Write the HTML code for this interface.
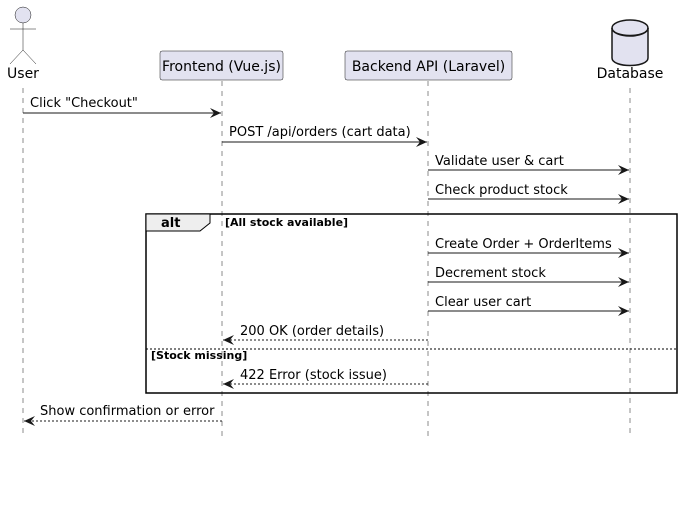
<!DOCTYPE html>
<html><head><meta charset="utf-8"><style>body{margin:0;background:#fff}svg{display:block}</style></head><body>
<svg width="682" height="518" viewBox="0 0 682 518" xmlns="http://www.w3.org/2000/svg" font-family="DejaVu Sans, Liberation Sans, sans-serif">
<defs>
<marker id="a" markerWidth="12" markerHeight="10" refX="11" refY="5" orient="auto" markerUnits="userSpaceOnUse"><path d="M0,0 L11,5 L0,10 L4,5 Z" fill="#181818"/></marker>
</defs>
<g stroke="#181818" stroke-width="0.5" stroke-dasharray="5,5">
<line x1="23" y1="88" x2="23" y2="436"/>
<line x1="222" y1="81" x2="222" y2="436"/>
<line x1="428" y1="81" x2="428" y2="436"/>
<line x1="630" y1="88" x2="630" y2="436"/>
</g>
<g stroke="#181818" stroke-width="0.5" fill="#E2E2F0">
<circle cx="23" cy="15" r="8"/>
<line x1="23" y1="23" x2="23" y2="50"/>
<line x1="10" y1="29" x2="36" y2="29"/>
<line x1="23" y1="50" x2="10" y2="64"/>
<line x1="23" y1="50" x2="36" y2="64"/>
</g>
<text x="23" y="78" font-size="14" text-anchor="middle" fill="#000">User</text>
<rect x="160" y="51" width="123" height="29" rx="2" fill="#E2E2F0" stroke="#181818" stroke-width="0.5"/>
<text x="221.5" y="71" font-size="14" text-anchor="middle">Frontend (Vue.js)</text>
<rect x="345" y="51" width="167" height="29" rx="2" fill="#E2E2F0" stroke="#181818" stroke-width="0.5"/>
<text x="428.5" y="71" font-size="14" text-anchor="middle">Backend API (Laravel)</text>
<path d="M612,28 L612,58 C612,68 648,68 648,58 L648,28" fill="#E2E2F0" stroke="#181818" stroke-width="1.5"/>
<ellipse cx="630" cy="28" rx="18" ry="8" fill="#E2E2F0" stroke="#181818" stroke-width="1.5"/>
<path d="M612,28 C612,38 648,38 648,28" fill="none" stroke="#181818" stroke-width="1.5"/>
<text x="630" y="78" font-size="14" text-anchor="middle">Database</text>
<rect x="146" y="214" width="531" height="179" fill="none" stroke="#000" stroke-width="1.5"/>
<path d="M146,214 L210,214 L210,223 L200,231 L146,231 Z" fill="#EEEEEE" stroke="#000" stroke-width="1"/>
<text x="161" y="227" font-size="13" font-weight="bold">alt</text>
<text x="225" y="226" font-size="11" font-weight="bold">[All stock available]</text>
<line x1="146" y1="349" x2="677" y2="349" stroke="#000" stroke-width="1" stroke-dasharray="2,2"/>
<text x="151" y="359" font-size="11" font-weight="bold">[Stock missing]</text>
<g stroke="#181818" stroke-width="1" font-size="13" fill="#000">
<line x1="23" y1="113" x2="221" y2="113" marker-end="url(#a)"/>
<line x1="222" y1="142" x2="427" y2="142" marker-end="url(#a)"/>
<line x1="428" y1="170" x2="629" y2="170" marker-end="url(#a)"/>
<line x1="428" y1="199" x2="629" y2="199" marker-end="url(#a)"/>
<line x1="428" y1="253" x2="629" y2="253" marker-end="url(#a)"/>
<line x1="428" y1="282" x2="629" y2="282" marker-end="url(#a)"/>
<line x1="428" y1="311" x2="629" y2="311" marker-end="url(#a)"/>
<line x1="428" y1="340" x2="223" y2="340" stroke-dasharray="2,2" marker-end="url(#a)"/>
<line x1="428" y1="384" x2="223" y2="384" stroke-dasharray="2,2" marker-end="url(#a)"/>
<line x1="222" y1="421" x2="24" y2="421" stroke-dasharray="2,2" marker-end="url(#a)"/>
</g>
<g font-size="13" fill="#000" stroke="none">
<text x="30" y="107">Click "Checkout"</text>
<text x="229" y="136">POST /api/orders (cart data)</text>
<text x="435" y="165">Validate user &amp; cart</text>
<text x="435" y="194">Check product stock</text>
<text x="435" y="248">Create Order + OrderItems</text>
<text x="435" y="277">Decrement stock</text>
<text x="435" y="306">Clear user cart</text>
<text x="240" y="335">200 OK (order details)</text>
<text x="240" y="379">422 Error (stock issue)</text>
<text x="40" y="415">Show confirmation or error</text>
</g>
</svg>
</body></html>
